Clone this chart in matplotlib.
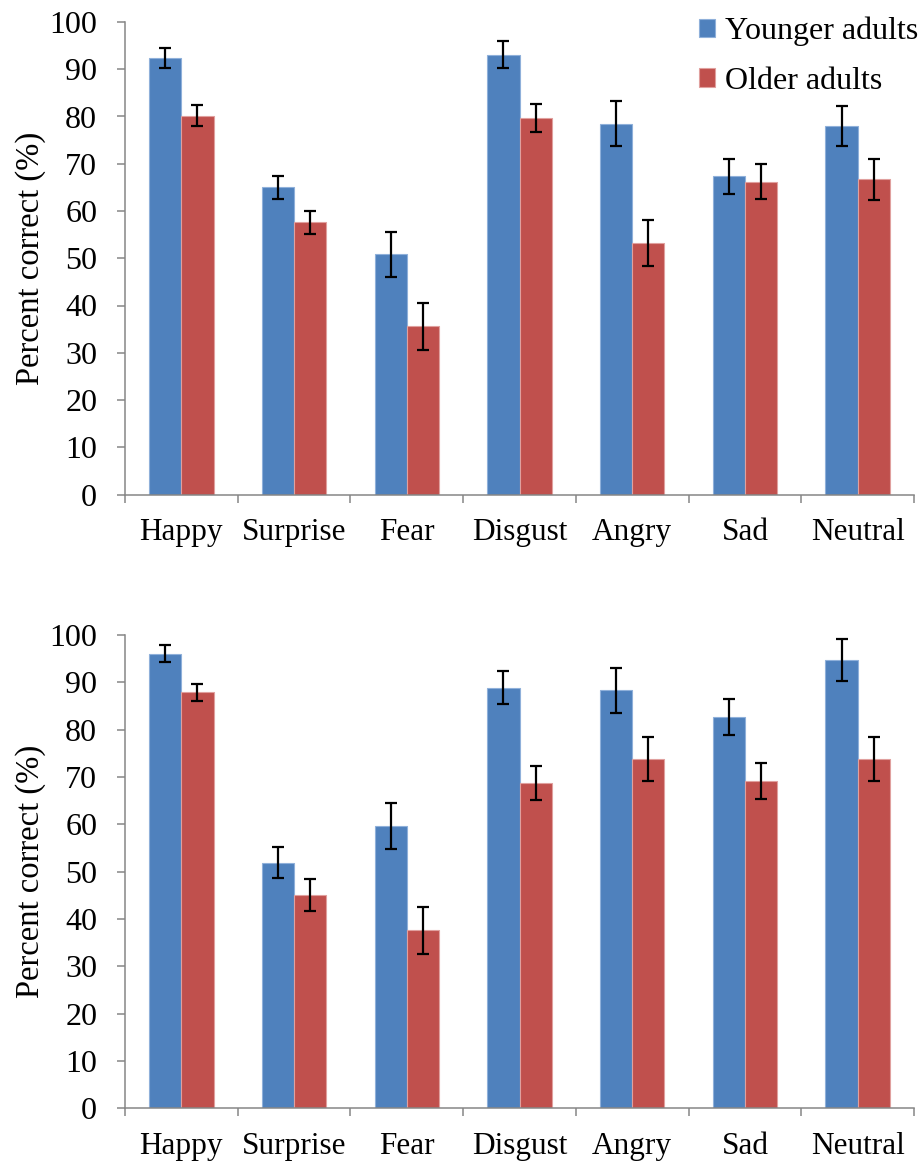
import matplotlib
matplotlib.use("Agg")
import matplotlib.pyplot as plt
import numpy as np

# Emotion categories shown on both panels
emotions = ["Happy", "Surprise", "Fear", "Disgust", "Angry", "Sad", "Neutral"]
groups = ["Younger adults", "Older adults"]

# Upper panel: mean percent correct and standard errors
top_younger = [92.4, 65.0, 50.8, 93.1, 78.5, 67.4, 78.0]
top_younger_err = [2.2, 2.4, 4.8, 2.9, 4.8, 3.7, 4.2]
top_older = [80.2, 57.6, 35.6, 79.7, 53.2, 66.2, 66.7]
top_older_err = [2.3, 2.5, 5.0, 3.0, 4.9, 3.7, 4.4]

# Lower panel: mean percent correct and standard errors
bottom_younger = [96.0, 51.9, 59.6, 88.9, 88.3, 82.7, 94.7]
bottom_younger_err = [1.8, 3.3, 4.8, 3.4, 4.7, 3.8, 4.4]
bottom_older = [87.9, 45.0, 37.6, 68.8, 73.8, 69.1, 73.8]
bottom_older_err = [1.8, 3.4, 4.9, 3.6, 4.7, 3.8, 4.6]

yticks = list(range(0, 101, 10))

BLUE = "#4F81BD"
RED = "#C0504D"
BLUE_EDGE = "#8FB0DA"
RED_EDGE = "#E0A09E"
AXIS_GRAY = "#868686"
FS_TICK = 23
FS_CAT = 22.5
FS_LAB = 23.5
FS_LEG = 23

plt.rcParams["font.family"] = ["Liberation Serif", "DejaVu Serif"]

fig = plt.figure(figsize=(9.22, 11.64), dpi=100)

W, H = 922.0, 1164.0
ax_left, ax_right = 125 / W, 914 / W
top_axes = fig.add_axes([ax_left, 1 - 494.5 / H, ax_right - ax_left, (494.5 - 22) / H])
bot_axes = fig.add_axes([ax_left, 1 - 1108.3 / H, ax_right - ax_left, (1108.3 - 635) / H])

x = np.arange(len(emotions))
bw = 0.286


def draw_panel(ax, young, young_err, old, old_err):
    err_kw = dict(ecolor="black", elinewidth=1.6, capsize=4.3, capthick=1.6)
    b1 = ax.bar(x - bw / 2, young, bw, yerr=young_err, color=BLUE,
                edgecolor=BLUE_EDGE, linewidth=0.8, error_kw=err_kw,
                label=groups[0], zorder=2)
    b2 = ax.bar(x + bw / 2, old, bw, yerr=old_err, color=RED,
                edgecolor=RED_EDGE, linewidth=0.8, error_kw=err_kw,
                label=groups[1], zorder=2)
    ax.set_xlim(-0.5, len(emotions) - 0.5)
    ax.set_ylim(0, 100)
    ax.set_yticks(yticks)
    ax.set_yticklabels([str(v) for v in yticks], fontsize=FS_TICK)
    ax.set_xticks(x)
    ax.set_xticklabels(emotions, fontsize=FS_CAT)
    ax.set_xticks(np.arange(-0.5, len(emotions), 1.0), minor=True)
    ax.tick_params(axis="x", which="major", length=0, pad=17)
    ax.tick_params(axis="x", which="minor", length=6, width=1.1,
                   color=AXIS_GRAY, direction="out")
    ax.tick_params(axis="y", which="major", length=6, width=1.1,
                   color=AXIS_GRAY, direction="out", pad=14)
    for side in ("top", "right"):
        ax.spines[side].set_visible(False)
    for side in ("left", "bottom"):
        ax.spines[side].set_color(AXIS_GRAY)
        ax.spines[side].set_linewidth(1.1)
    ax.set_ylabel("Percent correct (%)", fontsize=FS_LAB)
    ax.yaxis.set_label_coords(-0.100, 0.5)
    return b1, b2


handles = draw_panel(top_axes, top_younger, top_younger_err, top_older, top_older_err)
draw_panel(bot_axes, bottom_younger, bottom_younger_err, bottom_older, bottom_older_err)

fig.legend(handles, groups, loc="upper left",
           bbox_to_anchor=(699 / W, 1 - 17 / H), frameon=False,
           fontsize=FS_LEG, handlelength=0.5, handleheight=0.5,
           handletextpad=0.3, labelspacing=0.64, borderpad=0,
           borderaxespad=0)

fig.savefig("out.png", dpi=100)
